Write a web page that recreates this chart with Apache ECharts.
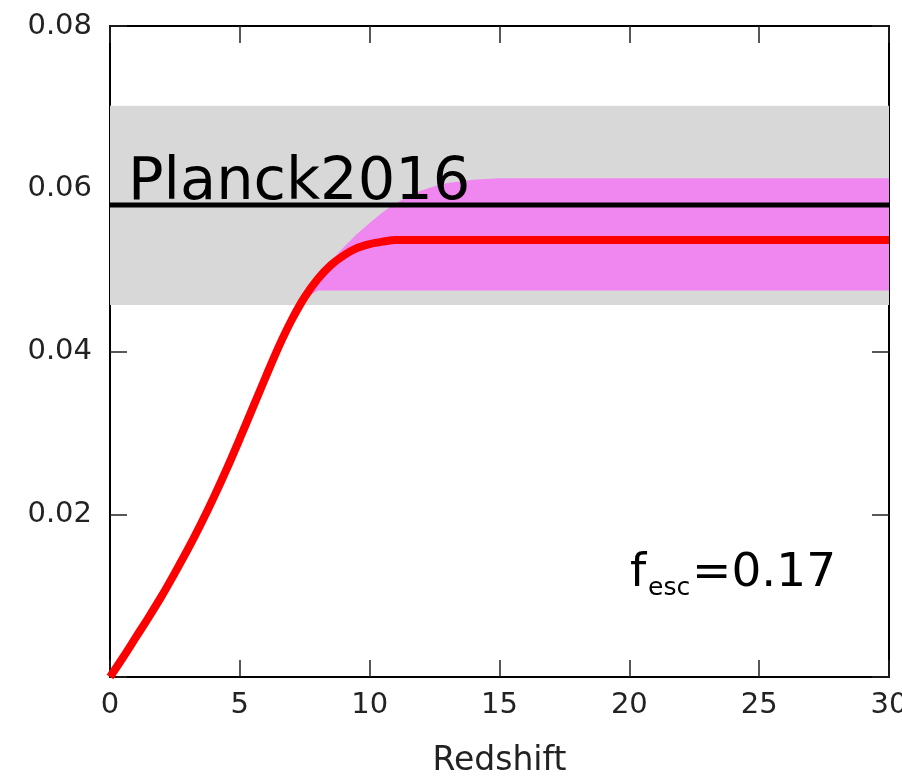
<!DOCTYPE html>
<html>
<head>
<meta charset="utf-8">
<title>Redshift</title>
<script src="https://cdn.jsdelivr.net/npm/echarts@6/dist/echarts.min.js"></script>
<style>
    html, body { margin: 0; padding: 0; background: #fff; }
    #chart { width: 902px; height: 777px; }
</style>
</head>
<body>
<div id="chart"></div>
<script>
    "use strict";

    // 坐标轴刻度
    var xTicks = [0, 5, 10, 15, 20, 25, 30];
    var yTicks = [0, 0.02, 0.04, 0.06, 0.08];

    // 红线 tau(z)
    var redZ = [0, 0.5, 1, 1.5, 2, 2.5, 3, 3.5, 4, 4.5, 5, 5.5, 6, 6.5, 7, 7.5, 8, 8.5, 9, 9.5, 10, 10.5, 11, 12, 15, 20, 25, 30];
    var redTau = [0, 0.0024, 0.0049, 0.0074, 0.0100, 0.0128, 0.0157, 0.0188, 0.0221, 0.0256, 0.0293, 0.0331, 0.0369, 0.0406, 0.0439, 0.0467, 0.0489, 0.0506, 0.0518, 0.0527, 0.0532, 0.0535, 0.0537, 0.0537, 0.0537, 0.0537, 0.0537, 0.0537];

    // 品红色误差带
    var bandZ = [7, 7.5, 8, 8.5, 9, 9.5, 10, 10.5, 11, 11.5, 12, 12.5, 13, 14, 15, 20, 25, 30];
    var bandUpper = [0.0439, 0.0470, 0.0494, 0.0511, 0.0528, 0.0544, 0.0558, 0.0571, 0.0582, 0.0591, 0.0598, 0.0603, 0.0607, 0.0611, 0.0613, 0.0613, 0.0613, 0.0613];
    var bandLower = [0.0439, 0.0465, 0.0475, 0.0475, 0.0475, 0.0475, 0.0475, 0.0475, 0.0475, 0.0475, 0.0475, 0.0475, 0.0475, 0.0475, 0.0475, 0.0475, 0.0475, 0.0475];

    // Planck2016
    var planckZ = [0, 30];
    var planckTau = [0.058, 0.058];
    var planckBand = [0.0457, 0.0702];

    var labelFont = "DejaVu Sans";

    function pairs(xs, ys) {
        var out = [];
        for (var i = 0; i < xs.length; i++) {
            out.push([xs[i], ys[i]]);
        }
        return out;
    }

    function axisCommon(extra) {
        var base = {
            axisLine: { show: true, onZero: false, lineStyle: { color: "#000", width: 2 } },
            axisTick: { show: true, inside: true, length: 17, lineStyle: { color: "#222", width: 1.5 } },
            splitLine: { show: false }
        };
        for (var k in extra) {
            base[k] = extra[k];
        }
        return base;
    }

    var chart = echarts.init(document.getElementById("chart"));

    var option = {
        backgroundColor: "#fff",
        animation: false,
        grid: { left: 110, right: 13, top: 26, bottom: 100, outerBoundsMode: "none", containLabel: false },
        xAxis: [
            axisCommon({
                type: "value",
                position: "bottom",
                min: xTicks[0],
                max: xTicks[xTicks.length - 1],
                interval: 5,
                name: "Redshift",
                nameLocation: "middle",
                nameGap: 68,
                nameTextStyle: { fontFamily: labelFont, fontSize: 33, color: "#222" },
                axisLabel: { margin: 14, fontFamily: labelFont, fontSize: 29, color: "#222" }
            }),
            axisCommon({
                type: "value",
                position: "top",
                min: xTicks[0],
                max: xTicks[xTicks.length - 1],
                interval: 5,
                axisLabel: { show: false }
            })
        ],
        yAxis: [
            axisCommon({
                type: "value",
                position: "left",
                min: yTicks[0],
                max: yTicks[yTicks.length - 1],
                interval: 0.02,
                axisLabel: {
                    margin: 18,
                    fontFamily: labelFont,
                    fontSize: 29,
                    color: "#222",
                    formatter: function (v) {
                        return v === 0 ? "" : v.toFixed(2);
                    }
                }
            }),
            axisCommon({
                type: "value",
                position: "right",
                min: yTicks[0],
                max: yTicks[yTicks.length - 1],
                interval: 0.02,
                axisLabel: { show: false }
            })
        ],
        series: [
            {
                // 灰色 Planck 区间
                name: "planckBand",
                type: "line",
                data: [],
                silent: true,
                markArea: {
                    silent: true,
                    itemStyle: { color: "#d8d8d8" },
                    data: [[{ yAxis: planckBand[0] }, { yAxis: planckBand[1] }]]
                }
            },
            {
                name: "band",
                type: "custom",
                clip: true,
                silent: true,
                data: [[bandZ[0], bandUpper[0]]],
                renderItem: function (params, api) {
                    var pts = [];
                    var i;
                    for (i = 0; i < bandZ.length; i++) {
                        pts.push(api.coord([bandZ[i], bandUpper[i]]));
                    }
                    for (i = bandZ.length - 1; i >= 0; i--) {
                        pts.push(api.coord([bandZ[i], bandLower[i]]));
                    }
                    return {
                        type: "polygon",
                        shape: { points: pts },
                        style: { fill: "#f086f0" }
                    };
                }
            },
            {
                name: "Planck2016",
                type: "line",
                data: pairs(planckZ, planckTau),
                showSymbol: false,
                lineStyle: { color: "#000", width: 5 },
                z: 3
            },
            {
                name: "tau",
                type: "line",
                data: pairs(redZ, redTau),
                smooth: 0.3,
                showSymbol: false,
                lineStyle: { color: "#ff0000", width: 8 },
                z: 4
            }
        ],
        graphic: [
            {
                type: "text",
                left: 128,
                top: 154,
                z: 10,
                style: { text: "Planck2016", font: "59px 'DejaVu Sans'", fill: "#000" }
            },
            {
                type: "text",
                x: 630,
                y: 574,
                z: 10,
                style: { text: "f", font: "46px 'DejaVu Sans'", fill: "#000", verticalAlign: "middle" }
            },
            {
                type: "text",
                x: 648,
                y: 588,
                z: 10,
                style: { text: "esc", font: "25px 'DejaVu Sans'", fill: "#000", verticalAlign: "middle" }
            },
            {
                type: "text",
                x: 692,
                y: 574,
                z: 10,
                style: { text: "=0.17", font: "47px 'DejaVu Sans'", fill: "#000", verticalAlign: "middle" }
            }
        ]
    };

    chart.setOption(option);
</script>
</body>
</html>
